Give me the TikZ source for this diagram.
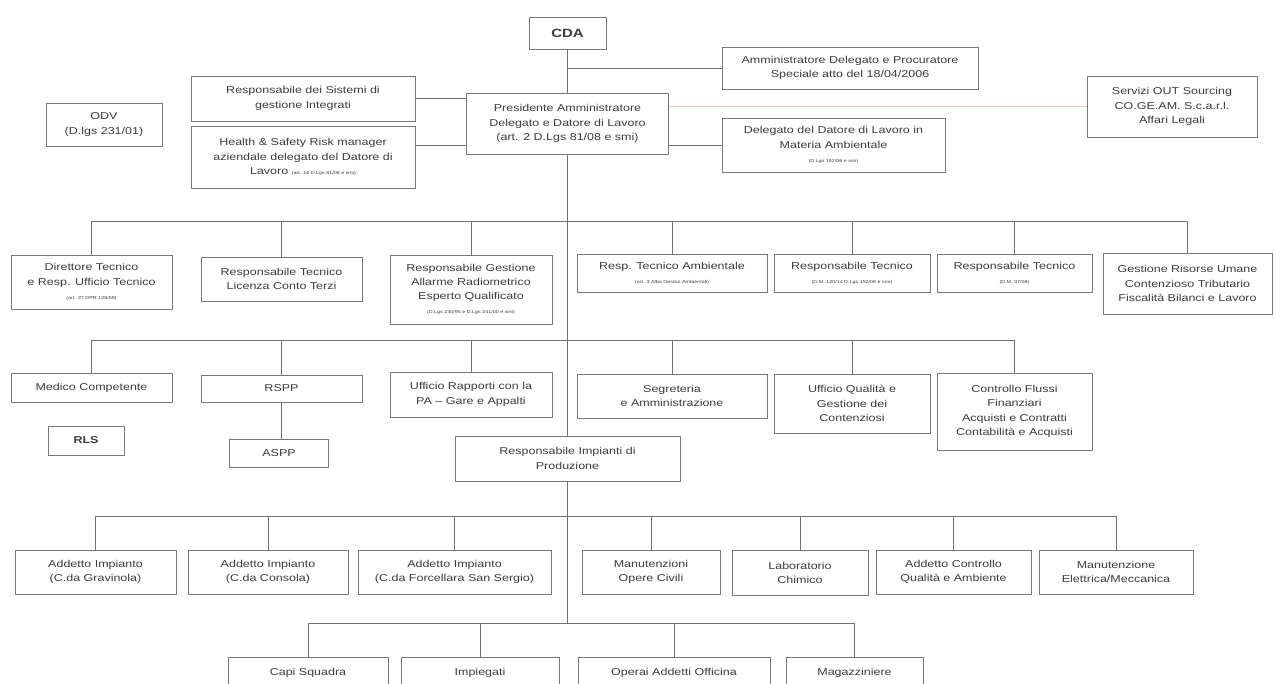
\documentclass[tikz,border=0pt]{standalone}
\usepackage{fontspec}
\setmainfont{Liberation Sans}[FakeStretch=1.25]
\definecolor{lncol}{RGB}{112,112,112}
\definecolor{bxcol}{RGB}{120,120,120}
\definecolor{txcol}{RGB}{60,60,60}
\definecolor{orcol}{RGB}{232,200,178}
\newcommand{\subt}[1]{{\fontsize{4.3}{5.5}\selectfont #1}}
\tikzset{
  box/.style={draw=bxcol, line width=0.9pt, text=txcol, align=center, inner sep=1pt,
    font=\fontsize{10}{14.2}\selectfont},
  conn/.style={draw=lncol, line width=0.8pt},
  oconn/.style={draw=orcol, line width=1pt},
}
\newcommand{\bx}[6]{\node[box, minimum width=#4pt, minimum height=#5pt] (#1) at (#2,#3) {#6};}
\begin{document}
\begin{tikzpicture}[x=1pt,y=-1pt]
\useasboundingbox (0,0) rectangle (1274,683);
\fill[white] (0,0) rectangle (1274,683);
\clip (0,0) rectangle (1274,683);
% top level
\bx{cda}{567.5}{33}{77}{32}{\fontsize{12}{14}\selectfont\bfseries CDA}
\bx{pres}{567.5}{123.5}{202}{61}{Presidente Amministratore\\Delegato e Datore di Lavoro\\(art. 2 D.Lgs 81/08 e smi)}
\bx{amm}{850}{68}{256}{42}{Amministratore Delegato e Procuratore\\Speciale atto del 18/04/2006}
\bx{serv}{1172}{106.5}{170}{61}{Servizi OUT Sourcing\\CO.GE.AM. S.c.a.r.l.\\Affari Legali}
\bx{delamb}{833.5}{145}{223}{54}{Delegato del Datore di Lavoro in\\Materia Ambientale\\\subt{(D.Lgs 152/06 e smi)}}
\bx{sist}{303}{98.5}{224}{45}{Responsabile dei Sistemi di\\gestione Integrati}
\bx{hs}{303}{157}{224}{62}{Health \& Safety Risk manager\\aziendale delegato del Datore di\\Lavoro \subt{(art. 16 D.Lgs 81/08 e smi)}}
\bx{odv}{104}{124.5}{116}{43}{ODV\\(D.lgs 231/01)}
% row 1
\bx{dir}{91.5}{282}{161}{54}{Direttore Tecnico\\e Resp. Ufficio Tecnico\\\subt{(art. 27 DPR 128/59)}}
\bx{lic}{281.5}{279}{161}{44}{Responsabile Tecnico\\Licenza Conto Terzi}
\bx{rgest}{471}{289.5}{162}{69}{Responsabile Gestione\\Allarme Radiometrico\\Esperto Qualificato\\\subt{(D.Lgs 230/95 e D.Lgs 241/00 e smi)}}
\bx{amb}{672}{273}{190}{38}{Resp. Tecnico Ambientale\\\subt{(art. 3 Albo Gestori Ambientali)}}
\bx{rtec}{852}{273}{156}{38}{Responsabile Tecnico\\\subt{(D.M. 120/14 D.Lgs 152/06 e smi)}}
\bx{rtec2}{1014.5}{273}{155}{38}{Responsabile Tecnico\\\subt{(D.M. 37/08)}}
\bx{gest}{1187.5}{283.5}{169}{61}{Gestione Risorse Umane\\Contenzioso Tributario\\Fiscalità Bilanci e Lavoro}
% row 2
\bx{med}{91.5}{387.5}{161}{29}{Medico Competente}
\bx{rspp}{281.5}{388.5}{161}{27}{RSPP}
\bx{uff}{471}{394.5}{162}{45}{Ufficio Rapporti con la\\PA – Gare e Appalti}
\bx{segr}{672}{396}{190}{44}{Segreteria\\e Amministrazione}
\bx{qual}{852}{403.5}{156}{59}{Ufficio Qualità e\\Gestione dei\\Contenziosi}
\bx{flussi}{1014.5}{411.5}{155}{77}{Controllo Flussi\\Finanziari\\Acquisti e Contratti\\Contabilità e Acquisti}
\bx{rls}{86}{440.5}{76}{29}{\bfseries RLS}
\bx{aspp}{279}{453}{99}{28}{ASPP}
\bx{rip}{567.5}{458.5}{225}{45}{Responsabile Impianti di\\Produzione}
% row 3
\bx{grav}{95.5}{572}{161}{44}{Addetto Impianto\\(C.da Gravinola)}
\bx{cons}{268}{572}{160}{44}{Addetto Impianto\\(C.da Consola)}
\bx{forc}{454.5}{572}{193}{44}{Addetto Impianto\\(C.da Forcellara San Sergio)}
\bx{opere}{651}{572}{138}{44}{Manutenzioni\\Opere Civili}
\bx{lab}{800}{573}{136}{45}{Laboratorio\\Chimico}
\bx{ctrl}{953.5}{572}{155}{44}{Addetto Controllo\\Qualità e Ambiente}
\bx{elet}{1116}{572}{154}{44}{Manutenzione\\Elettrica/Meccanica}
% row 4 (cut by the lower edge)
\bx{capi}{308}{673}{160}{32}{Capi Squadra}
\bx{imp}{480}{673}{158}{32}{Impiegati}
\bx{oper}{674}{673}{192}{32}{Operai Addetti Officina}
\bx{mag}{854.5}{673}{137}{32}{Magazziniere}
% bus coordinates
\coordinate (b1) at (0,221);
\coordinate (b2) at (0,340);
\coordinate (b3) at (0,516);
\coordinate (b4) at (0,623);
% trunk
\draw[conn] (cda.south) -- (pres.north);
\draw[conn] (pres.south) -- (rip.north);
\draw[conn] (rip.south) -- (rip.south |- b4);
% top branches
\draw[conn] (cda.south |- amm.west) -- (amm.west);
\draw[oconn] (pres.east |- serv.west) -- (serv.west);
\draw[conn] (pres.east |- delamb.west) -- (delamb.west);
\draw[conn] (sist.east) -- (sist.east -| pres.west);
\draw[conn] ([yshift=12pt]hs.east) -- ([yshift=12pt]hs.east -| pres.west);
% row 1 bus
\draw[conn] (dir.north |- b1) -- (gest.north |- b1);
\foreach \n in {dir,lic,rgest,amb,rtec,rtec2,gest} \draw[conn] (\n.north) -- (\n.north |- b1);
% row 2 bus
\draw[conn] (med.north |- b2) -- (flussi.north |- b2);
\foreach \n in {med,rspp,uff,segr,qual,flussi} \draw[conn] (\n.north) -- (\n.north |- b2);
\draw[conn] (rspp.south) -- (rspp.south |- aspp.north);
% row 3 bus
\draw[conn] (grav.north |- b3) -- (elet.north |- b3);
\foreach \n in {grav,cons,forc,opere,lab,ctrl,elet} \draw[conn] (\n.north) -- (\n.north |- b3);
% row 4 bus
\draw[conn] (capi.north |- b4) -- (mag.north |- b4);
\foreach \n in {capi,imp,oper,mag} \draw[conn] (\n.north) -- (\n.north |- b4);
\end{tikzpicture}
\end{document}
